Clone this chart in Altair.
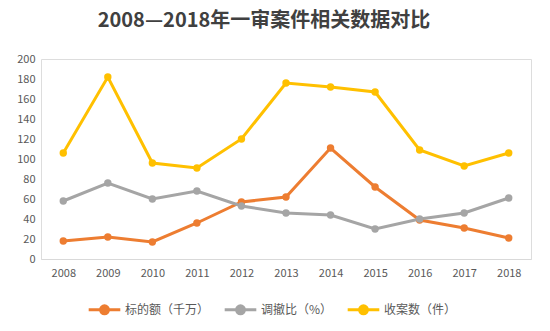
import altair as alt
import pandas as pd

years = ["2008", "2009", "2010", "2011", "2012", "2013", "2014", "2015", "2016", "2017", "2018"]
series_names = ["标的额（千万）", "调撤比（%）", "收案数（件）"]
amount = [18, 22, 17, 36, 57, 62, 111, 72, 39, 31, 21]
ratio = [58, 76, 60, 68, 53, 46, 44, 30, 40, 46, 61]
cases = [106, 182, 96, 91, 120, 176, 172, 167, 109, 93, 106]
colors = ["#ED7D31", "#A5A5A5", "#FFC000"]

rows = []
for name, vals in zip(series_names, [amount, ratio, cases]):
    for y, v in zip(years, vals):
        rows.append({"year": y, "series": name, "value": v})
df = pd.DataFrame(rows)

font = "Noto Sans CJK SC"

chart = alt.Chart(df).mark_line(
    strokeWidth=3,
    point=alt.OverlayMarkDef(filled=True, size=55),
).encode(
    x=alt.X("year:N", sort=years, title=None,
            scale=alt.Scale(type="point", padding=0.5),
            axis=alt.Axis(labelAngle=0, ticks=False, domainColor="#D9D9D9",
                          labelColor="#595959", labelFontSize=11, labelPadding=8,
                          labelFont=font)),
    y=alt.Y("value:Q", title=None,
            scale=alt.Scale(domain=[0, 200]),
            axis=alt.Axis(values=list(range(0, 201, 20)), grid=False, domain=False,
                          ticks=False, labelColor="#595959", labelFontSize=11,
                          labelPadding=6, labelFont=font)),
    color=alt.Color("series:N", sort=series_names,
                    scale=alt.Scale(domain=series_names, range=colors),
                    legend=alt.Legend(
                        title=None, orient="none", direction="horizontal",
                        legendX=46, legendY=233,
                        symbolType="M-1,0H1M-0.25,0A0.25,0.25,0,1,1,0.25,0A0.25,0.25,0,1,1,-0.25,0",
                        symbolSize=1000, symbolStrokeWidth=3,
                        labelFontSize=12, labelColor="#595959", labelFont=font,
                        columnPadding=8, labelOffset=3)),
    order=alt.Order("year:N"),
).properties(
    width=490, height=200,
    padding={"left": 41, "top": 59, "right": 19, "bottom": 72},
    autosize=alt.AutoSizeParams(type="none"),
    title=alt.TitleParams("2008—2018年一审案件相关数据对比", font=font, fontSize=20,
                          fontWeight="bold", color="#404040", anchor="middle",
                          dx=-22, offset=22),
).configure_view(stroke=None).configure(background="white")

chart.save("out.html", embed_options={"renderer": "svg", "actions": False})
